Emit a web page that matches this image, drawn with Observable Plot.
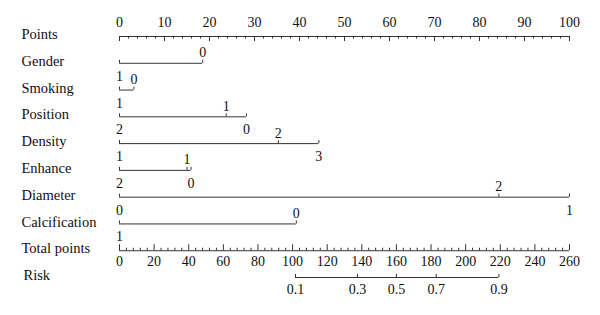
<!DOCTYPE html>
<html>
<head>
<meta charset="utf-8">
<script src="https://cdn.jsdelivr.net/npm/d3@7"></script>
<script src="https://cdn.jsdelivr.net/npm/@observablehq/plot@0.6"></script>
<style>
  html, body { margin: 0; padding: 0; background: #fff; }
</style>
</head>
<body>
<div id="chart"></div>
<script>
// ---- Data ----
const rowNames = ["Points", "Gender", "Smoking", "Position", "Density", "Enhance", "Diameter", "Calcification", "Total points", "Risk"];

const pointsMajor = [0, 10, 20, 30, 40, 50, 60, 70, 80, 90, 100];
const totalMajor = [0, 20, 40, 60, 80, 100, 120, 140, 160, 180, 200, 220, 240, 260];

const genderLevels = ["1", "0"];
const genderPoints = [0, 18.5];
const smokingLevels = ["1", "0"];
const smokingPoints = [0, 3.2];
const positionLevels = ["2", "1", "0"];
const positionPoints = [0, 23.7, 28.2];
const densityLevels = ["1", "2", "3"];
const densityPoints = [0, 35.3, 44.3];
const enhanceLevels = ["2", "1", "0"];
const enhancePoints = [0, 15.0, 15.9];
const diameterLevels = ["0", "2", "1"];
const diameterPoints = [0, 84.3, 100];
const calcLevels = ["1", "0"];
const calcPoints = [0, 39.3];

const riskLabels = ["0.1", "0.3", "0.5", "0.7", "0.9"];
const riskTotalPoints = [101.7, 137.5, 160, 183, 219.2];

// ---- Derived tables ----
const variables = [
  {levels: genderLevels, points: genderPoints},
  {levels: smokingLevels, points: smokingPoints},
  {levels: positionLevels, points: positionPoints},
  {levels: densityLevels, points: densityPoints},
  {levels: enhanceLevels, points: enhancePoints},
  {levels: diameterLevels, points: diameterPoints},
  {levels: calcLevels, points: calcPoints}
];
const levelRows = variables.flatMap((v, k) =>
  v.levels.map((lab, i) => ({row: k + 1, label: lab, pts: v.points[i], above: i % 2 === 1})));
const segRows = variables.map((v, k) => ({row: k + 1, x1: d3.min(v.points), x2: d3.max(v.points)}));

const pointsMinor = d3.range(0, 101, 2).filter(d => d % 10 !== 0);
const totalMinor = d3.range(0, 261, 4).filter(d => d % 20 !== 0);
const totalToPoints = d3.scaleLinear([0, 260], [0, 100]);
const totalRow = 8, riskRow = 9;
const riskRows = riskLabels.map((lab, i) => ({label: lab, pts: totalToPoints(riskTotalPoints[i])}));

const lineColor = "#333";

const chart = Plot.plot({
  width: 600,
  height: 315,
  marginLeft: 119,
  marginRight: 31,
  marginTop: 0,
  marginBottom: 0,
  x: {domain: [0, 100], axis: null},
  y: {domain: [0, 9], range: [36, 277], axis: null},
  style: {fontFamily: "'Liberation Serif', 'DejaVu Serif', serif", fontSize: "14px", color: "#111", background: "#fff"},
  marks: [
    // Row labels
    Plot.text(rowNames.slice(0, 9), {y: (d, i) => i, text: d => d, frameAnchor: "left", textAnchor: "start", dx: -98, dy: -2, fontSize: 14.5}),
    Plot.text(rowNames.slice(9), {y: () => riskRow, text: d => d, frameAnchor: "left", textAnchor: "start", dx: -96, dy: -2, fontSize: 14.5}),

    // Points axis (row 0)
    Plot.ruleY([0], {x1: 0, x2: 100, stroke: lineColor}),
    Plot.ruleX(pointsMajor, {x: d => d, y1: 0, y2: 0, insetBottom: -5, stroke: lineColor}),
    Plot.ruleX(pointsMinor, {x: d => d, y1: 0, y2: 0, insetBottom: -2.5, stroke: lineColor}),
    Plot.text(pointsMajor, {x: d => d, y: 0, dy: -14, text: d => String(d)}),

    // Variable rows
    Plot.ruleY(segRows, {y: "row", x1: "x1", x2: "x2", stroke: lineColor}),
    Plot.ruleX(levelRows, {x: "pts", y1: "row", y2: "row", insetTop: -3, stroke: lineColor}),
    Plot.text(levelRows.filter(d => d.above), {x: "pts", y: "row", dy: -10.5, text: "label"}),
    Plot.text(levelRows.filter(d => !d.above), {x: "pts", y: "row", dy: 13, text: "label"}),

    // Total points axis
    Plot.ruleY([totalRow], {x1: 0, x2: 100, stroke: lineColor}),
    Plot.ruleX(totalMajor, {x: d => totalToPoints(d), y1: totalRow, y2: totalRow, insetTop: -6, stroke: lineColor}),
    Plot.ruleX(totalMinor, {x: d => totalToPoints(d), y1: totalRow, y2: totalRow, insetTop: -2.5, stroke: lineColor}),
    Plot.text(totalMajor, {x: d => totalToPoints(d), y: totalRow, dy: 11, text: d => String(d)}),

    // Risk axis
    Plot.ruleY([riskRow], {x1: d3.min(riskRows, d => d.pts), x2: d3.max(riskRows, d => d.pts), stroke: lineColor}),
    Plot.ruleX(riskRows, {x: "pts", y1: riskRow, y2: riskRow, insetTop: -3, stroke: lineColor}),
    Plot.text(riskRows, {x: "pts", y: riskRow, dy: 12, text: "label"})
  ]
});
document.getElementById("chart").append(chart);
</script>
</body>
</html>
